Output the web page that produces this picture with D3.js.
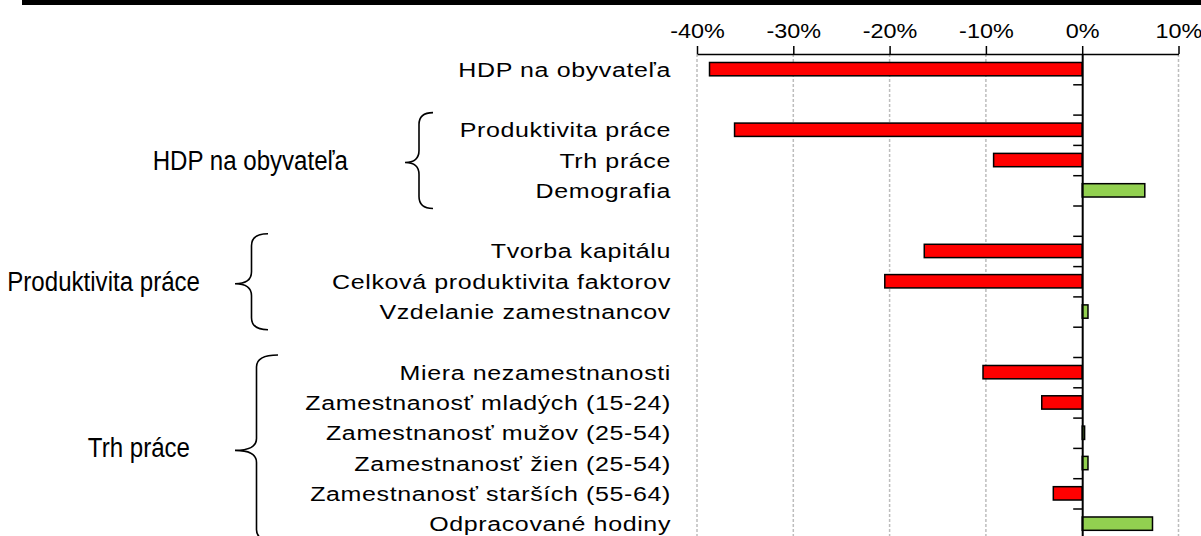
<!DOCTYPE html>
<html>
<head>
<meta charset="utf-8">
<script src="https://cdn.jsdelivr.net/npm/d3@7"></script>
<style>
  body { margin: 0; background: #fff; }
  svg { display: block; font-family: "Liberation Sans", Arial, sans-serif; }
</style>
</head>
<body>
<script>
// riadky grafu (null = prazdny riadok medzi skupinami)
var categories = ["HDP na obyvateľa", null,
    "Produktivita práce", "Trh práce", "Demografia", null,
    "Tvorba kapitálu", "Celková produktivita faktorov", "Vzdelanie zamestnancov", null,
    "Miera nezamestnanosti", "Zamestnanosť mladých (15-24)", "Zamestnanosť mužov (25-54)",
    "Zamestnanosť žien (25-54)", "Zamestnanosť starších (55-64)", "Odpracované hodiny"];
var values = [-38.7, null, -36.1, -9.2, 6.5, null, -16.4, -20.5, 0.6, null,
    -10.3, -4.2, 0.25, 0.6, -3.0, 7.3];
var groupNames = ["HDP na obyvateľa", "Produktivita práce", "Trh práce"];
var groupFirst = [2, 6, 10];
var groupLast = [4, 8, 15];
var xTicks = [-40, -30, -20, -10, 0, 10];

function grafica(){
    var w = 1201, h = 536;
    var top = 54, step = 30.3;

    var svg = d3.select('body').append('svg')
        .attr('width', w)
        .attr('height', h);

    // cierny pruh hore
    svg.append('rect')
        .attr('x', 22).attr('y', 0)
        .attr('width', w - 22).attr('height', 5)
        .attr('fill', '#000');

    var x = d3.scaleLinear().domain([-40, 10]).range([697, 1178.5]);
    var y = d3.scaleBand().domain(d3.range(categories.length))
        .range([top, top + step * categories.length]);
    var yLin = d3.scaleLinear().domain([0, categories.length])
        .range([top, top + step * categories.length]);

    // mriezka
    svg.selectAll('line.grid')
        .data(xTicks.filter(function(d){ return d != 0; }))
        .enter().append('line')
        .attr('class', 'grid')
        .attr('x1', function(d){ return x(d); })
        .attr('x2', function(d){ return x(d); })
        .attr('y1', top).attr('y2', h)
        .attr('stroke', '#bdbdbd')
        .attr('stroke-width', 1.5)
        .attr('stroke-dasharray', '3,2');

    // horna os
    var ax = svg.append('g')
        .attr('transform', 'translate(0,' + top + ')')
        .call(d3.axisTop(x).tickValues(xTicks).tickSize(8).tickSizeOuter(0)
            .tickPadding(8).tickFormat(function(d){ return d + '%'; }));
    ax.select('.domain').attr('stroke', '#000').attr('stroke-width', 1.5);
    ax.selectAll('.tick line').attr('stroke', '#000').attr('stroke-width', 1.5);
    ax.selectAll('.tick text')
        .attr('fill', '#000')
        .style('font-size', '19.5px')
        .style('font-family', '"Liberation Sans", Arial, sans-serif')
        .attr('transform', 'scale(1.2,1)');

    // stlpce
    var barH = y.bandwidth() * 0.44;
    var rows = d3.range(categories.length).filter(function(i){ return values[i] != null; });
    svg.selectAll('rect.bar')
        .data(rows)
        .enter().append('rect')
        .attr('class', 'bar')
        .attr('x', function(i){ return x(Math.min(0, values[i])); })
        .attr('width', function(i){ return Math.abs(x(values[i]) - x(0)); })
        .attr('y', function(i){ return y(i) + (y.bandwidth() - barH) / 2; })
        .attr('height', barH)
        .attr('fill', function(i){ return values[i] < 0 ? '#ff0000' : '#92d050'; })
        .attr('stroke', '#000')
        .attr('stroke-width', 1.5);

    // zvisla os na nule
    var ay = svg.append('g')
        .attr('transform', 'translate(' + x(0) + ',0)')
        .call(d3.axisLeft(yLin).tickValues(d3.range(1, categories.length + 1))
            .tickSize(9).tickSizeOuter(0).tickFormat(''));
    ay.select('.domain').attr('stroke', '#000').attr('stroke-width', 2);
    ay.selectAll('.tick line').attr('stroke', '#000').attr('stroke-width', 1.5);

    // popisy riadkov
    svg.selectAll('g.lbl')
        .data(rows)
        .enter().append('g')
        .attr('class', 'lbl')
        .attr('transform', function(i){
            return 'translate(671,' + (y(i) + y.bandwidth() / 2 + 7.5) + ') scale(1.25,1)';
        })
        .append('text')
        .attr('text-anchor', 'end')
        .style('font-size', '20px')
        .style('letter-spacing', '0.5px')
        .text(function(i){ return categories[i]; });

    // zatvorky a nazvy skupin
    var tipX = [405, 235, 235];
    var braceW = [28, 33, 43];
    var labelEnd = [348, 200, 190];
    groupNames.forEach(function(name, g){
        var y0 = yLin(groupFirst[g]) - 2;
        var y1 = yLin(groupLast[g] + 1) + 3;
        var ym = (y0 + y1) / 2 + 2;
        var xt = tipX[g], xr = tipX[g] + braceW[g], xs = xt + braceW[g] * 0.5;
        var r = 12;
        var p = d3.path();
        p.moveTo(xr, y0);
        p.quadraticCurveTo(xs, y0, xs, y0 + r);
        p.lineTo(xs, ym - r);
        p.quadraticCurveTo(xs, ym, xt, ym);
        p.quadraticCurveTo(xs, ym, xs, ym + r);
        p.lineTo(xs, y1 - r);
        p.quadraticCurveTo(xs, y1, xr, y1);
        svg.append('path')
            .attr('d', p.toString())
            .attr('fill', 'none')
            .attr('stroke', '#000')
            .attr('stroke-width', 1.6);

        svg.append('g')
            .attr('transform', 'translate(' + labelEnd[g] + ',' + (ym + 7) + ') scale(0.86,1)')
            .append('text')
            .attr('text-anchor', 'end')
            .style('font-size', '28px')
            .text(name);
    });
}

grafica();
</script>
</body>
</html>
